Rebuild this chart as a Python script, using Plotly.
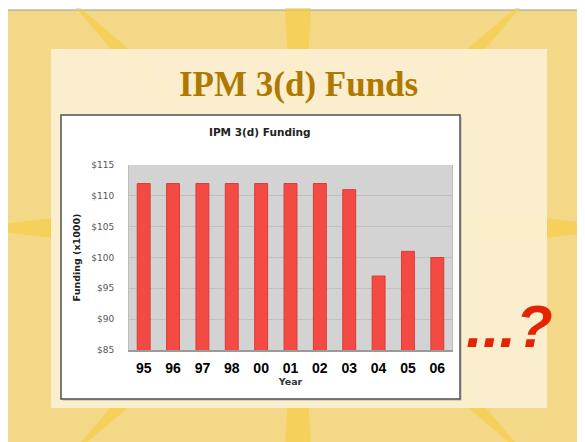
import plotly.graph_objects as go
import math

years = ['95', '96', '97', '98', '00', '01', '02', '03', '04', '05', '06']
funding = [112, 112, 112, 112, 112, 112, 112, 111, 97, 101, 100]
y_ticks = [85, 90, 95, 100, 105, 110, 115]
y_ticktext = ['$' + str(v) for v in y_ticks]
x_ticktext = ['<b>' + y + '</b>' for y in years]

# page body adds an 8px margin, so the figure is shifted by that much
OFF = 8
W, H = 585 - OFF, 442 - OFF
L, R, T, B = 129, 452, 165, 350   # plot area in reference pixels


def px(x):
    return (x - L) / (R - L)


def py(y):
    return (B - y) / (B - T)


def rect(x0, y0, x1, y1, fill, line=None, lw=0, opacity=1):
    return dict(type='rect', xref='paper', yref='paper', layer='below',
                x0=px(x0), x1=px(x1), y0=py(y1), y1=py(y0),
                fillcolor=fill, opacity=opacity,
                line=dict(color=line or fill, width=lw))


shapes = []
# slide background
shapes.append(rect(7, 10, 600, 460, '#F3D888'))
shapes.append(dict(type='line', xref='paper', yref='paper', layer='below',
                   x0=px(7), x1=px(600), y0=py(10), y1=py(10),
                   line=dict(color='#9A9A9A', width=1)))

# sun rays
cx, cy = 298, 228
for k in range(8):
    a = k * math.pi / 4
    dx, dy = math.cos(a), math.sin(a)
    nx, ny = -dy, dx
    hw = 13 if k % 2 == 0 else 9
    pts = [(cx, cy),
           (cx + dx * 220 + nx * hw, cy + dy * 220 + ny * hw),
           (cx + dx * 330, cy + dy * 330),
           (cx + dx * 220 - nx * hw, cy + dy * 220 - ny * hw)]
    path = 'M ' + ' L '.join(f'{px(x):.4f},{py(y):.4f}' for x, y in pts) + ' Z'
    shapes.append(dict(type='path', xref='paper', yref='paper', layer='below',
                       path=path, fillcolor='#F6CC3C', opacity=0.6,
                       line=dict(width=0)))

# cream panel
shapes.append(rect(51, 49, 547, 408, '#FCF1D6', opacity=0.9))
# chart box shadow + box
shapes.append(rect(63, 117, 462, 401, '#D8D0BC'))
shapes.append(rect(61, 115, 460, 399, 'white', line='#505050', lw=1.5))
# plot area
shapes.append(rect(L, T, R, B, '#D3D3D3'))

fig = go.Figure()
fig.add_trace(go.Bar(
    x=years, y=funding,
    marker=dict(color='#F44A44', line=dict(color='#DC3B36', width=1)),
    width=0.44,
))

fig.update_layout(
    width=W, height=H,
    margin=dict(l=L - OFF, r=585 - R, t=T - OFF, b=442 - B),
    paper_bgcolor='white',
    plot_bgcolor='rgba(0,0,0,0)',
    showlegend=False,
    shapes=shapes,
    font=dict(family='DejaVu Sans', color='#333333'),
    xaxis=dict(
        type='category',
        tickvals=years, ticktext=x_ticktext,
        tickfont=dict(family='Liberation Sans', size=14, color='black'),
        showline=True, linecolor='#9A9A9A', linewidth=1.5,
        ticks='', ticklabelstandoff=4,
        title=dict(text='<b>Year</b>', font=dict(size=9.5, color='#333333'),
                   standoff=2),
    ),
    yaxis=dict(
        range=[85, 115],
        tickvals=y_ticks, ticktext=y_ticktext,
        tickfont=dict(family='DejaVu Sans', size=9, color='#555555'),
        showgrid=True, gridcolor='#C0C0C0', gridwidth=1,
        showline=True, linecolor='#BDBDBD', mirror=True,
        zeroline=False, ticks='', ticklabelstandoff=12,
        title=dict(text='<b>Funding (x1000)</b>',
                   font=dict(size=9.5, color='#222222'), standoff=8),
    ),
    annotations=[
        dict(text='<b>IPM 3(d) Funds</b>', xref='paper', yref='paper',
             x=px(298), y=py(84), xanchor='center', yanchor='middle',
             showarrow=False,
             font=dict(family='Liberation Serif', size=35, color='#AF7900')),
        dict(text='<b>IPM 3(d) Funding</b>', xref='paper', yref='paper',
             x=px(260), y=py(132), xanchor='center', yanchor='middle',
             showarrow=False,
             font=dict(family='DejaVu Sans', size=10.5, color='#222222')),
        dict(text='<b><i>...?</i></b>', xref='paper', yref='paper',
             x=px(509), y=py(326), xanchor='center', yanchor='middle',
             showarrow=False,
             font=dict(family='Liberation Sans', size=60, color='#E32400')),
    ],
)

fig.write_html('out.html')
